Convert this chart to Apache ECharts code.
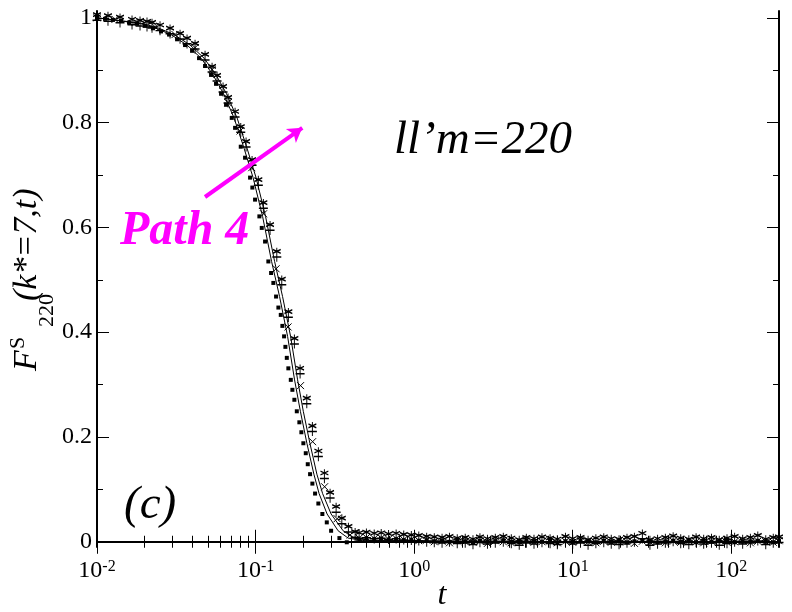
<!DOCTYPE html>
<html>
<head>
<meta charset="utf-8">
<script src="https://cdn.jsdelivr.net/npm/echarts@6/dist/echarts.min.js"></script>
<style>
html, body { margin: 0; padding: 0; background: #fff; }
#chart { width: 792px; height: 612px; }
</style>
</head>
<body>
<div id="chart"></div>
<script>
// tick values
var xMajor = [0.01, 0.1, 1, 10, 100];
var xMinor = [0.02, 0.03, 0.04, 0.05, 0.06, 0.07, 0.08, 0.09,
              0.2, 0.3, 0.4, 0.5, 0.6, 0.7, 0.8, 0.9,
              2, 3, 4, 5, 6, 7, 8, 9,
              20, 30, 40, 50, 60, 70, 80, 90];
var yMajor = [0, 0.2, 0.4, 0.6, 0.8, 1];
var yMinor = [0.1, 0.3, 0.5, 0.7, 0.9];

// filled squares
var sqT = [0.01, 0.01123, 0.01261, 0.01417, 0.01592, 0.01788, 0.02009, 0.02256, 0.02534, 0.02847,
           0.03198, 0.03591, 0.03976, 0.04400, 0.04802, 0.05239, 0.05632, 0.06059, 0.06515, 0.07076,
           0.07427, 0.08065, 0.08585, 0.09233, 0.09546, 0.09926, 0.1057, 0.1094, 0.1148, 0.1204,
           0.1253, 0.1295, 0.1347, 0.1393, 0.1442, 0.1476, 0.1513, 0.1542, 0.1574, 0.1610,
           0.1668, 0.1707, 0.1757, 0.1820, 0.1889, 0.1945, 0.2002, 0.2073, 0.2134, 0.2207,
           0.2282, 0.2373, 0.2489, 0.2638, 0.2813, 0.2995, 0.3379, 0.3761];
var sqF = [1.000, 0.998, 0.996, 0.994, 0.991, 0.989, 0.985, 0.980, 0.974, 0.968,
           0.959, 0.948, 0.937, 0.923, 0.908, 0.891, 0.874, 0.855, 0.834, 0.809,
           0.790, 0.754, 0.733, 0.695, 0.676, 0.653, 0.621, 0.599, 0.573, 0.535,
           0.513, 0.494, 0.468, 0.447, 0.433, 0.412, 0.392, 0.372, 0.351, 0.331,
           0.309, 0.290, 0.271, 0.249, 0.228, 0.209, 0.188, 0.169, 0.148, 0.129,
           0.111, 0.092, 0.073, 0.053, 0.037, 0.021, 0.007, -0.001];

// asterisks
var stT = [0.01, 0.01173, 0.01397, 0.01663, 0.01868, 0.02067, 0.02223, 0.02497, 0.02888, 0.03340,
           0.03697, 0.04153, 0.04802, 0.05317, 0.05715, 0.06237, 0.06707, 0.07427, 0.08065, 0.08711,
           0.09504, 0.1041, 0.1120, 0.1234, 0.1361, 0.1463, 0.1610, 0.1757, 0.1909, 0.2104,
           0.2282, 0.2489, 0.2717, 0.2951, 0.3221, 0.3499, 0.3850, 0.4245];
var stF = [1.000, 0.998, 0.995, 0.991, 0.989, 0.987, 0.985, 0.980, 0.974, 0.964,
           0.955, 0.945, 0.924, 0.901, 0.884, 0.863, 0.842, 0.815, 0.786, 0.758,
           0.723, 0.685, 0.641, 0.599, 0.548, 0.495, 0.433, 0.382, 0.325, 0.268,
           0.215, 0.167, 0.125, 0.088, 0.061, 0.039, 0.023, 0.013];

// crosses
var crT = [0.01, 0.01299, 0.01737, 0.02322, 0.03105, 0.04153, 0.05317, 0.06707, 0.07983, 0.09462,
           0.1123, 0.1347, 0.1603, 0.1922, 0.2289, 0.2725, 0.3268, 0.3947];
var crF = [1.000, 0.997, 0.991, 0.983, 0.968, 0.943, 0.901, 0.838, 0.784, 0.714,
           0.626, 0.521, 0.410, 0.298, 0.191, 0.105, 0.044, 0.013];

// long-time tail, shared times
var tailT = [0.45, 0.5, 0.56, 0.62, 0.69, 0.77, 0.86, 0.96, 1.07, 1.2,
             1.34, 1.5, 1.67, 1.87, 2.1, 2.35, 2.6, 2.9, 3.25, 3.65,
             4.1, 4.6, 5.1, 5.7, 6.4, 7.2, 8.0, 9.0, 10, 11.2,
             12.5, 14, 15.7, 17.5, 19.6, 22, 24.5, 27.5, 30.7, 34.3,
             38.4, 43, 48, 54, 60, 67, 75, 84, 94, 105,
             118, 132, 147, 165, 184, 200];
var sqTail = [0.004, 0.006, 0.005, 0.006, 0.004, 0.005, 0.003, 0.004, 0.002, 0.003,
              0.001, 0.002, 0.000, 0.002, 0.001, -0.001, 0.002, 0.000, 0.001, 0.003,
              0.000, -0.001, 0.002, 0.001, 0.000, 0.002, -0.001, 0.001, 0.000, 0.002,
              0.001, -0.001, 0.002, 0.000, 0.001, -0.002, 0.001, 0.002, 0.000, -0.001,
              0.001, 0.002, 0.000, 0.001, -0.001, 0.002, 0.000, 0.001, 0.002, -0.001,
              0.000, 0.001, 0.002, 0.000, -0.001, 0.001];
var stTail = [0.011, 0.012, 0.010, 0.011, 0.009, 0.010, 0.008, 0.007, 0.006, 0.004,
              0.003, 0.002, 0.004, 0.001, 0.002, -0.001, 0.003, 0.000, 0.002, 0.004,
              0.001, -0.002, 0.002, 0.000, 0.003, 0.001, -0.001, 0.004, 0.000, 0.002,
              -0.002, 0.001, 0.003, 0.000, -0.001, 0.002, 0.004, 0.010, -0.002, 0.000,
              0.002, 0.005, 0.001, -0.001, 0.003, 0.000, 0.002, -0.002, 0.001, 0.004,
              0.000, 0.002, 0.006, -0.001, 0.002, 0.003];
var crTail = [0.007, 0.008, 0.006, 0.007, 0.005, 0.006, 0.004, 0.004, 0.002, 0.003,
              0.000, 0.001, -0.002, 0.002, 0.000, -0.001, 0.001, -0.003, 0.002, 0.000,
              -0.002, 0.001, 0.003, -0.001, 0.000, 0.002, -0.002, 0.001, -0.001, 0.003,
              0.000, -0.002, 0.001, -0.001, 0.002, 0.000, -0.003, 0.001, 0.000, -0.012,
              -0.002, 0.001, -0.001, 0.002, 0.000, -0.002, 0.001, 0.003, -0.001, 0.000,
              0.002, -0.002, 0.001, 0.000, -0.001, 0.002];

// two thin solid curves (same levels, different times)
var lnF  = [1.000, 0.996, 0.989, 0.980, 0.968, 0.948, 0.923, 0.891, 0.855, 0.809,
            0.754, 0.695, 0.621, 0.535, 0.468, 0.392, 0.309, 0.249, 0.188, 0.129,
            0.092, 0.053, 0.021, 0.007, 0.002, 0.002, 0.002, 0.001, 0.001, 0.000,
            0.001, 0.000, 0.001, 0.000];
var ln1T = [0.01, 0.01261, 0.01868, 0.02356, 0.02930, 0.03697, 0.04531, 0.05395, 0.06282, 0.07316,
            0.08401, 0.09643, 0.1107, 0.1262, 0.1417, 0.1592, 0.1762, 0.1917, 0.2107, 0.2332,
            0.2515, 0.2825, 0.3315, 0.3834, 0.4909, 0.7, 1, 2, 5, 10,
            20, 50, 100, 200];
var ln2T = [0.01, 0.01299, 0.01950, 0.02461, 0.03060, 0.03862, 0.04732, 0.05632, 0.06561, 0.07644,
            0.08773, 0.1007, 0.1156, 0.1318, 0.1480, 0.1663, 0.1841, 0.2000, 0.2201, 0.2436,
            0.2647, 0.2995, 0.3565, 0.4183, 0.5433, 0.7, 1, 2, 5, 10,
            20, 50, 100, 200];

// arrow annotation (data coords)
var arrowFrom = [0.048, 0.658];
var arrowTo = [0.197, 0.79];

var FONT = '"Liberation Serif", "Times New Roman", Times, serif';

function pairs(ts, fs) {
    var out = [];
    for (var i = 0; i < ts.length; i++) {
        out.push([ts[i], fs[i]]);
    }
    return out;
}

function xAx(pos, ticks, len, main) {
    return {
        type : 'log',
        logBase : 10,
        min : 0.01,
        max : 200,
        position : pos,
        axisLine : { show : main, lineStyle : { color : '#000', width : 2 } },
        axisTick : { show : true, inside : true, length : len, customValues : ticks,
                     lineStyle : { color : '#000', width : 1 } },
        axisLabel : { show : false },
        splitLine : { show : false },
        minorTick : { show : false }
    };
}

function yAx(pos, ticks, len, main) {
    return {
        type : 'value',
        min : -0.01,
        max : 1.013,
        position : pos,
        axisLine : { show : main, onZero : false, lineStyle : { color : '#000', width : 2 } },
        axisTick : { show : true, inside : true, length : len, customValues : ticks,
                     lineStyle : { color : '#000', width : 1 } },
        axisLabel : { show : false },
        splitLine : { show : false }
    };
}

var xAxes = [xAx('bottom', xMajor, 12, true), xAx('bottom', xMinor, 6, false),
             xAx('top', xMajor, 12, true), xAx('top', xMinor, 6, false)];
xAxes[0].axisLabel = {
    show : true,
    customValues : xMajor,
    margin : 12,
    formatter : function(v) {
        return '{b|10}{s|' + Math.round(Math.log10(v)) + '}';
    },
    rich : {
        b : { fontFamily : FONT, fontSize : 24, color : '#000' },
        s : { fontFamily : FONT, fontSize : 16, color : '#000', verticalAlign : 'top' }
    }
};
var yAxes = [yAx('left', yMajor, 12, true), yAx('left', yMinor, 6, false),
             yAx('right', yMajor, 12, true), yAx('right', yMinor, 6, false)];
yAxes[0].axisLabel = {
    show : true,
    customValues : yMajor,
    margin : 5,
    fontFamily : FONT,
    fontSize : 24,
    color : '#000',
    formatter : function(v) {
        return (v === 0 || v === 1) ? String(v) : v.toFixed(1);
    }
};

var mychart = echarts.init(document.getElementById('chart'));
var option = {
    animation : false,
    backgroundColor : '#fff',
    grid : { left : 97, right : 13, top : 11, bottom : 65 },
    xAxis : xAxes,
    yAxis : yAxes,
    graphic : [{
        type : 'group',
        x : 44,
        y : 371,
        rotation : Math.PI / 2,
        children : [
            { type : 'text', x : 0, y : 0, style : { text : 'F', fontFamily : FONT, fontStyle : 'italic', fontSize : 34, fill : '#000', verticalAlign : 'bottom' } },
            { type : 'text', x : 22, y : -15, style : { text : 'S', fontFamily : FONT, fontSize : 22, fill : '#000', verticalAlign : 'bottom' } },
            { type : 'text', x : 44, y : 14, style : { text : '220', fontFamily : FONT, fontSize : 22, fill : '#000', verticalAlign : 'bottom' } },
            { type : 'text', x : 70, y : 0, style : { text : '(k*=7,t)', fontFamily : FONT, fontStyle : 'italic', fontSize : 34, fill : '#000', verticalAlign : 'bottom' } }
        ]
    }, {
        type : 'text', x : 442, y : 596,
        style : { text : 't', fontFamily : FONT, fontStyle : 'italic', fontSize : 32, fill : '#000', align : 'center', verticalAlign : 'middle' }
    }, {
        type : 'text', x : 394, y : 141,
        style : { text : 'll\u2019m=220', fontFamily : FONT, fontStyle : 'italic', fontSize : 47, fill : '#000', verticalAlign : 'middle' }
    }, {
        type : 'text', x : 120, y : 232,
        style : { text : 'Path 4', fontFamily : FONT, fontStyle : 'italic', fontWeight : 'bold', fontSize : 48, fill : '#ff00ff', verticalAlign : 'middle' }
    }, {
        type : 'text', x : 124, y : 506,
        style : { text : '(c)', fontFamily : FONT, fontStyle : 'italic', fontSize : 47, fill : '#000', verticalAlign : 'middle' }
    }],
    series : [{
        name : 'squares',
        type : 'scatter',
        data : pairs(sqT, sqF).concat(pairs(tailT, sqTail)),
        symbol : 'rect',
        symbolSize : 4,
        itemStyle : { color : '#000', opacity : 1 },
        markLine : {
            silent : true,
            symbol : ['none', 'arrow'],
            symbolSize : [13, 14],
            label : { show : false },
            lineStyle : { color : '#ff00ff', width : 4, type : 'solid', opacity : 1 },
            data : [[{ coord : arrowFrom }, { coord : arrowTo }]]
        }
    }, {
        name : 'line1',
        type : 'line',
        data : pairs(ln1T, lnF),
        symbol : 'none',
        lineStyle : { color : '#000', width : 1 }
    }, {
        name : 'line2',
        type : 'line',
        data : pairs(ln2T, lnF),
        symbol : 'none',
        lineStyle : { color : '#000', width : 1 }
    }, {
        name : 'cross',
        type : 'scatter',
        data : pairs(crT, crF).concat(pairs(tailT, crTail)),
        symbol : 'path://M0,0L10,10M0,10L10,0',
        symbolSize : 7,
        itemStyle : { color : 'none', borderColor : '#000', borderWidth : 1, opacity : 1 }
    }, {
        name : 'star',
        type : 'scatter',
        data : pairs(stT, stF).concat(pairs(tailT, stTail)),
        symbol : 'path://M5,0L5,15M1.5,2L8.5,6M1.5,6L8.5,2M1,10L9,10',
        symbolSize : [9, 14],
        itemStyle : { color : 'none', borderColor : '#000', borderWidth : 1.2, opacity : 1 }
    }]
};
mychart.setOption(option);
</script>
</body>
</html>
